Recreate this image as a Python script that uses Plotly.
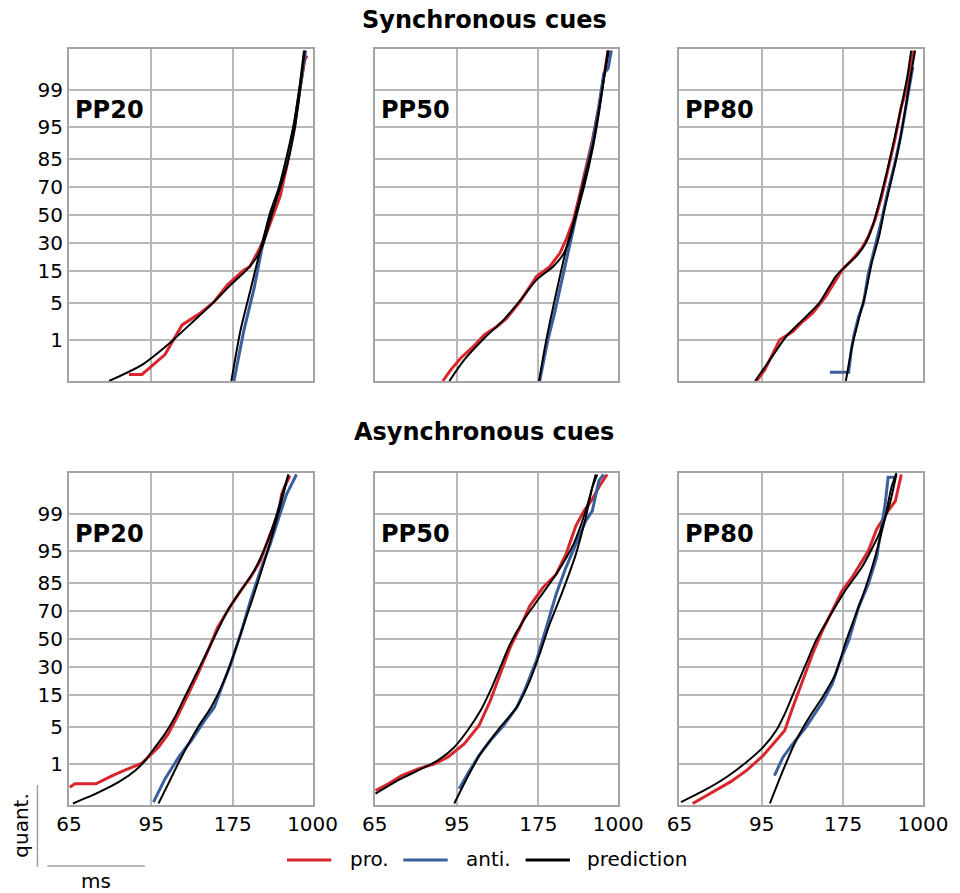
import plotly.graph_objects as go
from statistics import NormalDist

# ---------------- data (RT in ms, cumulative quantile in %) ----------------
tick_quantiles = [1, 5, 15, 30, 50, 70, 85, 95, 99]
tick_rts = [65, 95, 175, 1000]
row_titles = ["Synchronous cues", "Asynchronous cues"]
panel_labels = ["PP20", "PP50", "PP80"]
legend_names = ["pro.", "anti.", "prediction"]

# Synchronous PP20
sync20_pro_q = [0.15, 0.15, 0.47, 2.04, 3.48, 5.36, 9.67, 15.3, 16.8, 25.4, 34.4, 51.2, 63.3, 81.5, 88.6, 95.0, 97.45, 99.4, 99.8, 99.85]
sync20_pro_rt = [84.4, 90.3, 102.9, 114.9, 131.9, 147, 166, 198, 212.4, 238.8, 263.5, 302, 342, 395, 428, 488, 513, 603, 682, 752]
sync20_pro_pred_q = [0.1, 0.265, 0.93, 2.2, 4.72, 9.67, 15.6, 21.9, 29.9, 46.3, 65.6, 81.5, 92.7, 97.8, 99.58, 99.89]
sync20_pro_pred_rt = [76.8, 90.3, 107.2, 122.5, 143, 171.4, 205.8, 233.7, 256.7, 285.4, 331, 395, 466, 538, 616, 682]
sync20_anti_q = [0.1, 1.63, 8.65, 26.8, 51.2, 70.1, 87.4, 95.6, 99.0, 99.65, 99.89]
sync20_anti_rt = [177.2, 198, 224.6, 250.7, 285.4, 342, 412, 488, 569, 640, 710]
sync20_anti_pred_q = [0.1, 1.63, 8.16, 25.8, 51.2, 70.1, 87.4, 95.6, 99.0, 99.89]
sync20_anti_pred_rt = [172.5, 190.5, 214.2, 244.7, 285.4, 336, 402, 475, 556, 663]

# Synchronous PP50
sync50_pro_q = [0.1, 0.2, 0.39, 0.74, 1.29, 1.9, 2.74, 5.36, 9.14, 12.6, 16.8, 23.8, 32.1, 46.3, 63.3, 79.9, 91.8, 97.8, 99.49, 99.89]
sync50_pro_rt = [88, 91.9, 97.1, 105, 112.3, 122.5, 131.9, 147, 160.7, 171.4, 198, 224.6, 244.7, 274, 302, 342, 395, 466, 538, 625]
sync50_pro_pred_q = [0.1, 0.35, 1.1, 2.55, 6.45, 11.35, 16.8, 22.8, 32.1, 48.8, 70.1, 88.6, 97.06, 99.4, 99.89]
sync50_pro_pred_rt = [91.1, 99, 112.3, 128.7, 151.3, 171.4, 205.8, 233.7, 256.7, 285.4, 331, 395, 466, 538, 616]
sync50_anti_q = [0.1, 1.01, 3.38, 12.6, 32.1, 58.6, 78.0, 90.9, 97.8, 99.58, 99.68, 99.85, 99.89]
sync50_anti_rt = [177.2, 194, 210, 233.7, 263.5, 302, 342, 395, 466, 538, 625, 682, 710]
sync50_anti_pred_q = [0.1, 1.01, 7.27, 25.8, 51.2, 74.2, 89.8, 97.45, 99.58, 99.89]
sync50_anti_pred_rt = [176, 190.5, 214.2, 244.7, 285.4, 331, 395, 466, 556, 640]

# Synchronous PP80
sync80_pro_q = [0.1, 0.2, 1.01, 1.19, 1.5, 2.37, 3.38, 6.45, 11.35, 15.3, 20.2, 26.8, 34.4, 46.3, 63.3, 79.9, 91.8, 97.8, 99.0, 99.8, 99.89]
sync80_pro_rt = [92.4, 96.7, 105.7, 109.1, 115.1, 123.4, 132.9, 148.2, 162.3, 173.1, 192.6, 216.9, 236.6, 260.8, 290.2, 327, 375, 438, 502.5, 588.6, 650]
sync80_pro_pred_q = [0.1, 0.35, 1.19, 2.55, 5.03, 12.6, 16.8, 21.9, 29.9, 43.8, 61.0, 78.0, 92.7, 97.8, 99.49, 99.89]
sync80_pro_pred_rt = [91.6, 99.6, 110.2, 123.4, 140.2, 162.3, 178.5, 201.6, 227.8, 254.3, 282, 317, 375, 438, 518, 588.6]
sync80_anti_q = [0.17, 0.17, 0.6, 1.19, 2.94, 5.03, 13.9, 27.8, 46.3, 67.9, 83.1, 93.55, 98.6, 99.71]
sync80_anti_rt = [153.9, 185.5, 191.1, 196.3, 208.3, 221.4, 236.6, 260.8, 290.2, 327, 375, 438, 518, 625]
sync80_anti_pred_q = [0.1, 0.72, 2.55, 7.27, 18.5, 34.4, 56.2, 74.2, 88.6, 97.06, 99.49, 99.89]
sync80_anti_pred_rt = [180, 192.6, 208.3, 227.8, 248.2, 278, 309, 349, 405, 480, 575, 682]

# Asynchronous PP20
async20_pro_q = [0.29, 0.35, 0.35, 0.55, 0.74, 1.04, 2.2, 3.87, 8.16, 15.3, 25.8, 41.4, 58.6, 73.2, 81.5, 87.4, 92.7, 97.45, 99.0, 99.65, 99.78, 99.88]
async20_pro_rt = [65.2, 66.5, 72.5, 78, 83, 90.3, 99, 105, 112.3, 119.7, 128.7, 139.3, 151.3, 171.4, 190.5, 214.2, 244.7, 285.4, 331, 354, 380, 428]
async20_pro_pred_q = [0.11, 0.2, 0.39, 0.72, 1.19, 2.2, 3.87, 7.27, 13.9, 23.8, 36.7, 51.2, 70.1, 81.5, 89.8, 96.6, 99.0, 99.71, 99.89]
async20_pro_pred_rt = [66, 72.5, 80.4, 87.2, 91.9, 97.1, 102.9, 109.5, 116.9, 125.5, 135.4, 147, 166, 190.5, 224.6, 274, 321, 367, 412]
async20_anti_q = [0.12, 0.46, 1.39, 2.94, 6.45, 10.2, 21.9, 32.1, 53.7, 76.2, 89.8, 96.1, 99.0, 99.65, 99.8, 99.89]
async20_anti_rt = [96.2, 102.9, 112.3, 122.5, 135.4, 147, 160.7, 171.4, 190.5, 214.2, 244.7, 285.4, 342, 395, 446, 513]
async20_anti_pred_q = [0.11, 0.35, 1.39, 5.03, 10.2, 21.9, 39.0, 61.0, 79.9, 91.8, 97.8, 99.49, 99.89]
async20_anti_pred_rt = [99, 105, 114.3, 128.7, 143, 160.7, 177.2, 198, 224.6, 256.7, 302, 354, 412]

# Asynchronous PP50
async50_pro_q = [0.24, 0.35, 0.55, 0.78, 1.01, 1.39, 2.55, 5.36, 12.6, 25.8, 43.8, 58.6, 73.2, 83.1, 88.6, 94.3, 98.24, 99.15, 99.54, 99.8, 99.89]
async50_pro_rt = [65.2, 68.6, 72.5, 78, 84.4, 90.3, 99, 108.4, 116.9, 125.5, 135.4, 147, 160.7, 183.6, 214.2, 244.7, 285.4, 331, 395, 488, 603]
async50_pro_pred_q = [0.2, 0.42, 0.72, 1.19, 2.2, 4.42, 9.14, 16.8, 29.9, 46.3, 63.3, 78.0, 88.6, 96.1, 99.15, 99.89]
async50_pro_pred_rt = [65.2, 71.2, 78, 85.8, 93.6, 101, 109.5, 116.9, 125.5, 135.4, 151.3, 177.2, 214.2, 274, 342, 428]
async50_anti_q = [0.265, 0.6, 1.51, 2.94, 5.36, 10.2, 18.5, 34.4, 58.6, 79.9, 90.9, 96.1, 98.6, 99.15, 99.65, 99.84, 99.89]
async50_anti_rt = [96.2, 101, 108.4, 116.9, 128.7, 143, 155, 171.4, 190.5, 214.2, 244.7, 285.4, 342, 395, 428, 466, 538]
async50_anti_pred_q = [0.11, 0.51, 1.63, 5.03, 10.2, 21.9, 39.0, 61.0, 81.5, 94.3, 98.81, 99.76, 99.89]
async50_anti_pred_rt = [93.6, 101, 109.5, 125.5, 143, 160.7, 177.2, 198, 233.7, 285.4, 342, 395, 446]

# Asynchronous PP80
async80_pro_q = [0.11, 0.2, 0.39, 0.72, 1.5, 2.94, 4.42, 10.2, 21.9, 39.0, 56.2, 70.1, 81.5, 87.4, 91.8, 94.98, 97.96, 99.15, 99.49, 99.76, 99.89]
async80_pro_rt = [68.5, 73.8, 80.8, 87.6, 95.8, 103.4, 109.1, 115.1, 123.4, 132.9, 144.1, 157.3, 173.1, 192.6, 212.4, 236.6, 267.6, 327, 380, 405, 438]
async80_pro_pred_q = [0.12, 0.24, 0.51, 1.1, 2.2, 4.42, 9.14, 18.5, 32.1, 48.8, 65.6, 81.5, 90.9, 97.45, 99.4, 99.89]
async80_pro_pred_rt = [65.4, 71.8, 79.4, 87.6, 95.8, 103.4, 110.2, 117.7, 126.4, 136.5, 152.6, 178.5, 216.9, 278, 337, 389]
async80_anti_q = [0.55, 1.39, 2.55, 5.03, 11.95, 20.2, 32.1, 48.8, 72.2, 84.7, 93.55, 98.1, 99.4, 99.87, 99.87]
async80_anti_rt = [102.3, 107.9, 115.1, 126.4, 144.1, 157.3, 167.6, 185.7, 208, 236.6, 267.6, 290.2, 309, 327, 375]
async80_anti_pred_q = [0.11, 0.72, 2.94, 7.27, 13.9, 25.8, 46.3, 67.9, 83.1, 93.55, 98.81, 99.76, 99.9]
async80_anti_pred_rt = [99.6, 107.9, 117.7, 129.6, 144.1, 162.3, 178.5, 201.6, 227.8, 260.8, 309, 349, 389]

panels = [
    (sync20_pro_q, sync20_pro_rt, sync20_anti_q, sync20_anti_rt,
     sync20_pro_pred_q, sync20_pro_pred_rt, sync20_anti_pred_q, sync20_anti_pred_rt),
    (sync50_pro_q, sync50_pro_rt, sync50_anti_q, sync50_anti_rt,
     sync50_pro_pred_q, sync50_pro_pred_rt, sync50_anti_pred_q, sync50_anti_pred_rt),
    (sync80_pro_q, sync80_pro_rt, sync80_anti_q, sync80_anti_rt,
     sync80_pro_pred_q, sync80_pro_pred_rt, sync80_anti_pred_q, sync80_anti_pred_rt),
    (async20_pro_q, async20_pro_rt, async20_anti_q, async20_anti_rt,
     async20_pro_pred_q, async20_pro_pred_rt, async20_anti_pred_q, async20_anti_pred_rt),
    (async50_pro_q, async50_pro_rt, async50_anti_q, async50_anti_rt,
     async50_pro_pred_q, async50_pro_pred_rt, async50_anti_pred_q, async50_anti_pred_rt),
    (async80_pro_q, async80_pro_rt, async80_anti_q, async80_anti_rt,
     async80_pro_pred_q, async80_pro_pred_rt, async80_anti_pred_q, async80_anti_pred_rt),
]

# ---------------- transforms: probit quantile axis, reciprocal RT axis ----------------
_nd = NormalDist()


def probit(qs):
    return [_nd.inv_cdf(q / 100.0) for q in qs]


def recip(rts):
    return [-1.0 / r for r in rts]


RED = "#d7272d"
BLUE = "#3b5e9e"
BLACK = "#000000"
GRID = "#b8b8b8"
FRAME = "#a4a4a4"
FONT = "DejaVu Sans"

W, H = 960, 893
ML, MR, MT, MB = 69, 25, 49, 88
PW, PH = W - ML - MR, H - MT - MB


def px_x(px):
    """window pixel x -> paper x"""
    return (px - ML) / PW


def px_y(py):
    """window pixel y -> paper y"""
    return (H - MB - py) / PH


col_dom = [[px_x(69), px_x(316)], [px_x(379), px_x(626)], [px_x(688), px_x(935)]]
row_dom = [[px_y(381), px_y(49)], [px_y(805), px_y(473)]]

fig = go.Figure()
layout = {}
annotations = []

for i, (pq, prt, aq, art, ppq, pprt, apq, aprt) in enumerate(panels):
    r, c = divmod(i, 3)
    n = i + 1
    xa = "x" if n == 1 else f"x{n}"
    ya = "y" if n == 1 else f"y{n}"
    fig.add_trace(go.Scatter(x=recip(prt), y=probit(pq), mode="lines", name="pro.",
                             line=dict(color=RED, width=3), showlegend=False,
                             xaxis=xa, yaxis=ya))
    fig.add_trace(go.Scatter(x=recip(art), y=probit(aq), mode="lines", name="anti.",
                             line=dict(color=BLUE, width=3), showlegend=False,
                             xaxis=xa, yaxis=ya))
    fig.add_trace(go.Scatter(x=recip(pprt), y=probit(ppq), mode="lines", name="prediction",
                             line=dict(color=BLACK, width=2, shape="spline", smoothing=0.6),
                             showlegend=False, xaxis=xa, yaxis=ya))
    fig.add_trace(go.Scatter(x=recip(aprt), y=probit(apq), mode="lines", name="prediction",
                             line=dict(color=BLACK, width=2, shape="spline", smoothing=0.6),
                             showlegend=False, xaxis=xa, yaxis=ya))

    xkey = "xaxis" if n == 1 else f"xaxis{n}"
    ykey = "yaxis" if n == 1 else f"yaxis{n}"
    layout[xkey] = dict(
        domain=col_dom[c], anchor=ya,
        range=[-1.0 / 65, -1.0 / 1000],
        tickvals=recip(tick_rts), ticktext=[str(t) for t in tick_rts],
        showticklabels=(r == 1), ticks="",
        showgrid=True, gridcolor=GRID, gridwidth=1.5,
        showline=True, mirror=True, linecolor=FRAME, linewidth=2,
        zeroline=False, fixedrange=True,
        tickfont=dict(family=FONT, size=20, color="black"),
    )
    layout[ykey] = dict(
        domain=row_dom[r], anchor=xa,
        range=[_nd.inv_cdf(0.001), _nd.inv_cdf(0.999)],
        tickvals=probit(tick_quantiles), ticktext=[str(t) for t in tick_quantiles],
        showticklabels=(c == 0), ticks="",
        showgrid=True, gridcolor=GRID, gridwidth=1.5,
        showline=True, mirror=True, linecolor=FRAME, linewidth=2,
        zeroline=False, fixedrange=True,
        tickfont=dict(family=FONT, size=20, color="black"),
    )
    annotations.append(dict(
        text=f"<b>{panel_labels[c]}</b>", xref=f"{xa} domain", yref=f"{ya} domain",
        x=0.0, y=0.815, xanchor="left", yanchor="middle", xshift=4,
        showarrow=False, font=dict(family=FONT, size=24, color="black"),
    ))

# row titles
for r, (title, py) in enumerate(zip(row_titles, [20, 432])):
    annotations.append(dict(
        text=f"<b>{title}</b>", xref="paper", yref="paper",
        x=px_x(490), y=px_y(py), xanchor="center", yanchor="middle",
        showarrow=False, font=dict(family=FONT, size=24, color="black"),
    ))

# axis-name indicator (bottom left)
annotations.append(dict(text="quant.", xref="paper", yref="paper", x=px_x(20), y=px_y(825),
                        xanchor="center", yanchor="middle", textangle=-90, showarrow=False,
                        font=dict(family=FONT, size=20, color="black")))
annotations.append(dict(text="ms", xref="paper", yref="paper", x=px_x(96), y=px_y(881),
                        xanchor="center", yanchor="middle", showarrow=False,
                        font=dict(family=FONT, size=20, color="black")))
shapes = [
    dict(type="line", xref="paper", yref="paper", x0=px_x(37), x1=px_x(37),
         y0=px_y(785), y1=px_y(867), line=dict(color="#a0a0a0", width=1.5)),
    dict(type="line", xref="paper", yref="paper", x0=px_x(47), x1=px_x(146),
         y0=px_y(866), y1=px_y(866), line=dict(color="#a0a0a0", width=1.5)),
]

# legend (drawn as key lines + labels)
legend_colors = [RED, BLUE, BLACK]
legend_line_x = [(290, 335), (408, 453), (532, 577)]
legend_text_x = [352, 470, 592]
for name, col, (x0, x1), tx in zip(legend_names, legend_colors, legend_line_x, legend_text_x):
    shapes.append(dict(type="line", xref="paper", yref="paper", x0=px_x(x0), x1=px_x(x1),
                       y0=px_y(860), y1=px_y(860), line=dict(color=col, width=3)))
    annotations.append(dict(text=name, xref="paper", yref="paper", x=px_x(tx), y=px_y(859),
                            xanchor="left", yanchor="middle", showarrow=False,
                            font=dict(family=FONT, size=20, color="black")))

fig.update_layout(
    width=W, height=H,
    margin=dict(l=ML, r=MR, t=MT, b=MB),
    paper_bgcolor="white", plot_bgcolor="white",
    font=dict(family=FONT, size=20, color="black"),
    annotations=annotations, shapes=shapes,
    showlegend=False,
    **layout,
)

# remove the default 8px page margin so the figure sits at the window's top-left corner
fig.write_html(
    "out.html",
    config={"displayModeBar": False},
    post_script="document.body.style.margin='0';document.body.style.overflow='hidden';",
)
